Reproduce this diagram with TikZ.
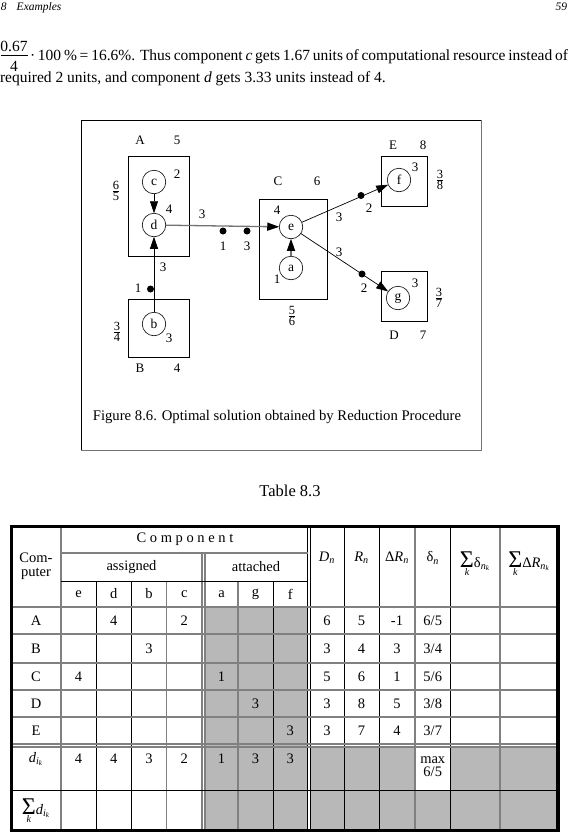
\documentclass[tikz,border=0pt]{standalone}
\usepackage{fontspec}
\usepackage{graphicx}
\setmainfont{Liberation Serif}
\usetikzlibrary{arrows.meta}
\newcommand{\sbi}[1]{\textsubscript{\itshape #1}}
\newcommand{\bigsum}{$\displaystyle\mathop{\mbox{\fontsize{24}{24}\selectfont Σ}}\limits_{\mbox{\fontsize{10}{10}\selectfont\itshape k}}$}
\begin{document}
\begin{tikzpicture}[x=1pt,y=-1pt,
  every node/.style={inner sep=0pt,outer sep=0pt},
  lab/.style={font=\fontsize{13}{14}\selectfont},
  frc/.style={font=\fontsize{12.5}{12}\selectfont},
  comp/.style={circle,draw,minimum size=23.5pt,font=\fontsize{13.5}{14}\selectfont,line width=0.6pt},
  cbox/.style={draw,line width=0.7pt},
  jdot/.style={circle,fill,minimum size=7pt},
  arr/.style={-{Triangle[length=12pt,width=8pt]},line width=0.7pt},
  arrg/.style={-{Triangle[length=12pt,width=8pt,color=black]},draw=black!55,line width=1.3pt},
  gl/.style={draw=black!50,line width=1.5pt},
  bl/.style={draw=black,line width=0.8pt},
  shd/.style={fill=black!28},
  cell/.style={font=\fontsize{14.5}{15}\selectfont},
  body/.style={font=\fontsize{15.5}{17}\selectfont}]
\useasboundingbox (0,0) rectangle (569,838);
% running head
\node[anchor=base west,font=\fontsize{11.5}{12}\selectfont\itshape] (hd) at (1,10) {8\hspace{10pt}Examples};
\node[anchor=base east,font=\fontsize{11.5}{12}\selectfont\itshape] (pg) at (567,10) {59};
% text
\node[anchor=base,body] (num) at (14,51) {0.67};
\node[anchor=base,body] (den) at (14,71) {4};
\draw[line width=0.6pt] (0.5,55.5) -- (28,55.5);
\node[anchor=base west,body] (l1) at (30,60) {\makebox[538pt][s]{· 100 \% = 16.6\%. Thus component \textit{c} gets 1.67 units of computational resource instead of}};
\node[anchor=base west,body] (l2) at (0,82) {required 2 units, and component \textit{d} gets 3.33 units instead of 4.};
% figure frame
\draw[line width=0.8pt] (81,120) rectangle (481,450);
\draw[draw=black!55,line width=1.2pt] (81,450.5) -- (481.5,450.5) -- (481.5,120);
% boxes
\node[cbox,minimum width=61pt,minimum height=100pt] (boxA) at (158.5,206) {};
\node[cbox,minimum width=68pt,minimum height=100pt] (boxC) at (293,249) {};
\node[cbox,minimum width=46pt,minimum height=50pt] (boxE) at (404,181) {};
\node[cbox,minimum width=46pt,minimum height=50pt] (boxD) at (404,296) {};
\node[cbox,minimum width=61pt,minimum height=58pt] (boxB) at (158.5,328) {};
% components
\node[comp,fill=white] (c) at (154,182) {c};
\node[comp,fill=white] (d) at (154,225) {d};
\node[comp,fill=white] (e) at (291,227) {e};
\node[comp,fill=white] (a) at (291,268) {a};
\node[comp,fill=white] (f) at (399,180) {f};
\node[comp,fill=white] (g) at (398,298) {g};
\node[comp,fill=white] (b) at (154,324) {b};
% edges
\draw[arr] (c) -- (d);
\draw[arr] (b) -- (d);
\draw[arrg] (d) -- (e);
\draw[arrg] (a) -- (e);
\draw[arr] (e) -- (f);
\draw[arr] (e) -- (g);
% dots
\node[jdot] (p1) at (223,231) {};
\node[jdot] (p2) at (247,231) {};
\node[jdot] (p3) at (361,195.5) {};
\node[jdot] (p4) at (362,274) {};
\node[jdot] (p5) at (150.5,289) {};
% labels
\node[lab] (tA) at (140,140) {A};
\node[lab] (tA5) at (177,140) {5};
\node[lab] (tc2) at (177,174) {2};
\node[lab] (td4) at (169,209) {4};
\node[frc] (fA) at (116,191) {$\frac{\mbox{6}}{\mbox{5}}$};
\node[lab] (tde3) at (202,214) {3};
\node[lab] (tp1) at (223,246) {1};
\node[lab] (tp2) at (247,246) {3};
\node[lab] (tC) at (278,181) {C};
\node[lab] (tC6) at (317,181) {6};
\node[lab] (te4) at (277,210) {4};
\node[lab] (ta1) at (277,279) {1};
\node[frc] (fC) at (292,316) {$\frac{\mbox{5}}{\mbox{6}}$};
\node[lab] (tE) at (393,145) {E};
\node[lab] (tE8) at (423,145) {8};
\node[lab] (tf3) at (415,167) {3};
\node[frc] (fE) at (440,180) {$\frac{\mbox{3}}{\mbox{8}}$};
\node[lab] (tp3) at (369,208) {2};
\node[lab] (tef3) at (339,217) {3};
\node[lab] (tD) at (394,335) {D};
\node[lab] (tD7) at (423,335) {7};
\node[lab] (tg3) at (415,283) {3};
\node[frc] (fD) at (439,298) {$\frac{\mbox{3}}{\mbox{7}}$};
\node[lab] (tp4) at (364,288) {2};
\node[lab] (teg3) at (339,252) {3};
\node[lab] (tB) at (140,368) {B};
\node[lab] (tB4) at (177,368) {4};
\node[lab] (tb3) at (169,338) {3};
\node[frc] (fB) at (117,332) {$\frac{\mbox{3}}{\mbox{4}}$};
\node[lab] (tp5) at (138,288) {1};
\node[lab] (tbd3) at (163,267) {3};
\node[font=\fontsize{14.7}{16}\selectfont] (cap) at (277,417) {Figure 8.6. Optimal solution obtained by Reduction Procedure};
% table
\node[font=\fontsize{16.5}{17}\selectfont] (ttl) at (290,491) {Table 8.3};
\fill[shd] (205,607) rectangle (307.5,830);
\fill[shd] (310.5,747) rectangle (558,830);
\fill[white] (415,747) rectangle (450.5,790);
\draw[gl] (61,526) -- (61,830);
\foreach \x/\s in {96/bl,131.5/bl,166.5/gl,238/gl,273/bl} \draw[\s] (\x,581) -- (\x,830);
\draw[gl] (202,553) -- (202,830);
\draw[gl] (205,553) -- (205,830);
\draw[bl] (307.5,526) -- (307.5,830);
\draw[bl] (310.5,526) -- (310.5,830);
\foreach \x/\s in {344/bl,379/bl,415/gl,450.5/bl,500/gl} \draw[\s] (\x,526) -- (\x,830);
\draw[gl] (61,553) -- (307.5,553);
\draw[bl] (61,581) -- (307.5,581);
\foreach \y in {607,634,663,690,717,744,747} \draw[gl] (11,\y) -- (558,\y);
\draw[bl] (11,790) -- (558,790);
\draw[line width=3pt] (10,526) -- (560,526);
\draw[line width=3pt] (10,830) -- (560,830);
\draw[line width=3.5pt] (11.5,524.5) -- (11.5,831.5);
\draw[line width=4pt] (558,524.5) -- (558,831.5);
% header text
\node[cell,align=center] (hcomp) at (36,566) {Com-\\[-1pt]puter};
\node[cell] (hcomponent) at (185,539) {C o m p o n e n t};
\node[cell] (hass) at (131.5,567) {assigned};
\node[cell] (hatt) at (256,567) {attached};
\node[cell] (he) at (78.5,594) {e};
\node[cell] (hd) at (113.75,594) {d};
\node[cell] (hb) at (149,594) {b};
\node[cell] (hc) at (184.25,594) {c};
\node[cell] (ha) at (221.5,594) {a};
\node[cell] (hg) at (255.5,594) {g};
\node[cell] (hf) at (290.25,594) {f};
\node[cell] (hDn) at (327,558) {\itshape D\sbi{n}};
\node[cell] (hRn) at (361.5,558) {\itshape R\sbi{n}};
\node[cell] (hdR) at (397,558) {Δ\itshape R\sbi{n}};
\node[cell] (hdl) at (432.75,558) {δ\sbi{n}};
\node[cell] (hsd) at (475,564) {\bigsum δ\sbi{n\sbi{k}}};
\node[cell] (hsR) at (529,564) {\bigsum Δ{\itshape R}\sbi{n\sbi{k}}};
% rows
\node[cell] (rA) at (36,620.5) {A};
\node[cell] (rAd) at (113.75,620.5) {4};
\node[cell] (rAc) at (184.25,620.5) {2};
\node[cell] (rA1) at (327,620.5) {6};
\node[cell] (rA2) at (361.5,620.5) {5};
\node[cell] (rA3) at (397,620.5) {-1};
\node[cell] (rA4) at (432.75,620.5) {6/5};
\node[cell] (rB) at (36,648.5) {B};
\node[cell] (rBb) at (149,648.5) {3};
\node[cell] (rB1) at (327,648.5) {3};
\node[cell] (rB2) at (361.5,648.5) {4};
\node[cell] (rB3) at (397,648.5) {3};
\node[cell] (rB4) at (432.75,648.5) {3/4};
\node[cell] (rC) at (36,676.5) {C};
\node[cell] (rCe) at (78.5,676.5) {4};
\node[cell] (rCa) at (221.5,676.5) {1};
\node[cell] (rC1) at (327,676.5) {5};
\node[cell] (rC2) at (361.5,676.5) {6};
\node[cell] (rC3) at (397,676.5) {1};
\node[cell] (rC4) at (432.75,676.5) {5/6};
\node[cell] (rD) at (36,703.5) {D};
\node[cell] (rDg) at (255.5,703.5) {3};
\node[cell] (rD1) at (327,703.5) {3};
\node[cell] (rD2) at (361.5,703.5) {8};
\node[cell] (rD3) at (397,703.5) {5};
\node[cell] (rD4) at (432.75,703.5) {3/8};
\node[cell] (rE) at (36,730.5) {E};
\node[cell] (rEf) at (290.25,730.5) {3};
\node[cell] (rE1) at (327,730.5) {3};
\node[cell] (rE2) at (361.5,730.5) {7};
\node[cell] (rE3) at (397,730.5) {4};
\node[cell] (rE4) at (432.75,730.5) {3/7};
\node[cell] (rdik) at (36,759) {\itshape d\sbi{i\sbi{k}}};
\node[cell] (rd1) at (78.5,759) {4};
\node[cell] (rd2) at (113.75,759) {4};
\node[cell] (rd3) at (149,759) {3};
\node[cell] (rd4) at (184.25,759) {2};
\node[cell] (rd5) at (221.5,759) {1};
\node[cell] (rd6) at (255.5,759) {3};
\node[cell] (rd7) at (290.25,759) {3};
\node[cell,align=center] (rmax) at (432.75,767) {max\\[-2pt]6/5};
\node[cell] (rsum) at (36,811) {\bigsum{\itshape d}\sbi{i\sbi{k}}};
\end{tikzpicture}
\end{document}
